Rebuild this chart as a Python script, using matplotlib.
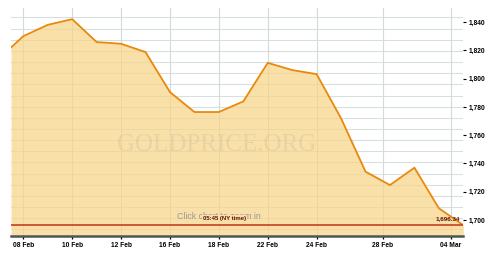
import matplotlib.pyplot as plt
import numpy as np

# trading-day index of each point (first one is clipped by the left edge)
days = [0.5] + list(range(1, 20))
prices = [1822.1, 1830.1, 1838.1, 1842.1, 1825.9, 1824.7, 1818.8, 1790.5,
          1776.4, 1776.4, 1783.9, 1811.2, 1806.1, 1803.2, 1771.9, 1734.2,
          1724.7, 1737.0, 1708.3, 1696.34]
last_price = 1696.34

tick_pos = [1, 3, 5, 7, 9, 11, 13, 15.7, 18.49]
tick_labels = ['08 Feb', '10 Feb', '12 Feb', '16 Feb', '18 Feb',
               '22 Feb', '24 Feb', '28 Feb', '04 Mar']
y_ticks = [1700, 1720, 1740, 1760, 1780, 1800, 1820, 1840]

ymin, ymax = 1688.7, 1850

fig = plt.figure(figsize=(5, 2.59), dpi=100)
ax = fig.add_axes([0.0222, 0.089, 0.9044, 0.880])

# background grid
for g in np.arange(1843.3, ymin, -7.89):
    ax.axhline(g, color='#d9dfdf', lw=0.8, zorder=0)
for t in tick_pos:
    ax.axvline(t, color='#d3dada', lw=0.8, zorder=0)

ax.fill_between(days, prices, ymin, color='#f8d588', alpha=0.72,
                lw=0, zorder=1)
ax.plot(days, prices, color='#e8890c', lw=1.3, zorder=3)
ax.axhline(last_price, color='#c8401e', lw=1.2, zorder=4)

ax.text(0.455, 0.40, 'GOLDPRICE.ORG', transform=ax.transAxes,
        family='Liberation Serif', fontsize=18, color='#8f9690', alpha=0.17,
        ha='center', va='center', zorder=2)

ax.text(0.366, 0.085, 'Click chart to zoom in', transform=ax.transAxes,
        family='Liberation Sans', fontsize=6.3, color='#9a9a9a',
        ha='left', va='center', zorder=5)
ax.text(0.472, 0.076, '05:45 (NY time)', transform=ax.transAxes,
        family='Liberation Sans', fontsize=4.3, fontweight='bold',
        color='#5a1008', ha='center', va='center', zorder=6,
        bbox=dict(boxstyle='square,pad=0.15', fc='#fae0a6', ec='none'))
ax.text(0.992, 0.076, '1,696.34', transform=ax.transAxes,
        family='Liberation Sans', fontsize=4.5, fontweight='bold',
        color='#5a1008', ha='right', va='center', zorder=6)

ax.set_xlim(0.5, 19)
ax.set_ylim(ymin, ymax)

ax.set_xticks(tick_pos)
ax.set_xticklabels(tick_labels, family='Liberation Sans', fontsize=4.8,
                   fontweight='bold')
ax.set_yticks(y_ticks)
ax.set_yticklabels(['{:,}'.format(v) for v in y_ticks],
                   family='Liberation Sans', fontsize=4.8, fontweight='bold')
ax.yaxis.tick_right()
ax.tick_params(axis='y', length=2.5, width=0.8, pad=1, colors='black')
ax.tick_params(axis='x', length=2, width=0.9, pad=2.5, colors='black')

for s in ['top', 'right', 'left']:
    ax.spines[s].set_visible(False)
ax.spines['bottom'].set_color('#4b5656')
ax.spines['bottom'].set_linewidth(1.8)

fig.savefig('out.png', dpi=100)
